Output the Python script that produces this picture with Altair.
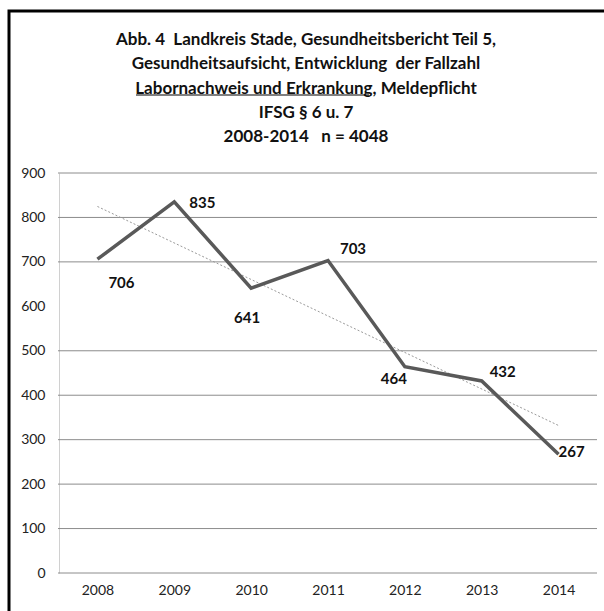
import altair as alt
import pandas as pd

years = [2008, 2009, 2010, 2011, 2012, 2013, 2014]
cases = [706, 835, 641, 703, 464, 432, 267]
y_ticks = [0, 100, 200, 300, 400, 500, 600, 700, 800, 900]
grid_values = [0, 100, 200, 300, 400, 500, 700, 800, 900]
NB = "\u00a0"
title_lines = [
    "Abb. 4" + NB + " Landkreis Stade, Gesundheitsbericht Teil 5,",
    "Gesundheitsaufsicht, Entwicklung" + NB + " der Fallzahl",
    "Labornachweis und Erkrankung, Meldepflicht",
    "IFSG § 6 u. 7",
    "2008-2014" + NB + NB + " n = 4048",
]

# label offsets (style only)
label_offsets = {2008: (24, 24), 2009: (28, 1), 2010: (-4, 30), 2011: (25, -12),
                 2012: (-11, 12), 2013: (21, -9), 2014: (13, -2)}

df = pd.DataFrame({"year": years, "cases": cases})
grid_df = pd.DataFrame({"v": grid_values})

FONT = "Lato"
W, H = 538, 400

xscale = alt.Scale(domain=[2007.5, 2014.5], nice=False, zero=False)
yscale = alt.Scale(domain=[0, 900], nice=False)

base = alt.Chart(df)

grid = alt.Chart(grid_df).mark_rule(color="#8c8c8c", strokeWidth=1).encode(
    y=alt.Y("v:Q", scale=yscale,
            axis=alt.Axis(values=y_ticks, title=None, grid=False, ticks=False,
                          domainColor="#d0d0d0", domainWidth=1,
                          labelFont=FONT, labelFontSize=14, labelColor="#222",
                          labelPadding=14)),
    x=alt.value(-1), x2=alt.value(W),
)

line = base.mark_line(color="#595959", strokeWidth=3.5, strokeJoin="miter").encode(
    x=alt.X("year:Q", scale=xscale,
            axis=alt.Axis(values=years, format="d", title=None, grid=False, ticks=False,
                          domain=False, labelFont=FONT, labelFontSize=14,
                          labelColor="#222", labelPadding=10)),
    y=alt.Y("cases:Q", scale=yscale),
)

trend = base.transform_regression("year", "cases").mark_line(
    color="#9a9a9a", strokeWidth=1, strokeDash=[2, 2]
).encode(x=alt.X("year:Q", scale=xscale), y=alt.Y("cases:Q", scale=yscale))

labels = []
for yr, (dx, dy) in label_offsets.items():
    labels.append(
        base.transform_filter(alt.datum.year == yr).mark_text(
            font=FONT, fontSize=15, fontWeight="bold", color="#111",
            dx=dx, dy=dy, align="center", baseline="middle"
        ).encode(x=alt.X("year:Q", scale=xscale), y=alt.Y("cases:Q", scale=yscale),
                 text="cases:Q")
    )

one = pd.DataFrame({"a": [0]})
frame = alt.Chart(one).mark_rect(fill=None, stroke="black", strokeWidth=3).encode(
    x=alt.value(-50), x2=alt.value(W + 60), y=alt.value(-162), y2=alt.value(H + 80)
)

title = alt.Chart(one).mark_text(
    font=FONT, fontSize=17, fontWeight="bold", color="#111", align="center",
    baseline="top", lineHeight=24.3
).encode(x=alt.value(247), y=alt.value(-141), text=alt.value(title_lines))

underline = alt.Chart(one).mark_rule(color="black", strokeWidth=1.2).encode(
    x=alt.value(77), x2=alt.value(310), y=alt.value(-78)
)

chart = alt.layer(frame, grid, trend, line, *labels, title, underline).properties(
    width=W, height=H,
    padding={"left": 59, "top": 173, "right": 7, "bottom": 38},
    autosize=alt.AutoSizeParams(type="none"),
).configure_view(stroke=None)

chart.save("out.html", embed_options={"renderer": "svg", "actions": False})
